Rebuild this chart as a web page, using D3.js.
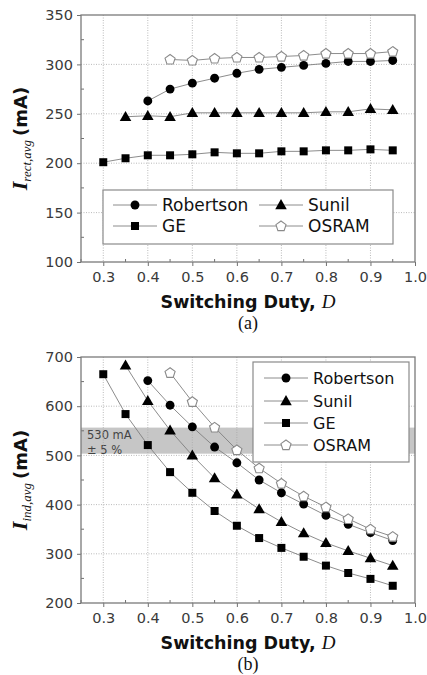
<!DOCTYPE html>
<html>
<head>
<meta charset="utf-8">
<script src="https://cdn.jsdelivr.net/npm/d3@7"></script>
<style>
  body { margin: 0; background: #fff; }
</style>
</head>
<body>
<div id="chart"></div>
<script>
// switching duty values (x)
const duty = [0.3, 0.35, 0.4, 0.45, 0.5, 0.55, 0.6, 0.65, 0.7, 0.75, 0.8, 0.85, 0.9, 0.95];
const xTicks = [0.3, 0.4, 0.5, 0.6, 0.7, 0.8, 0.9, 1.0];
const xMinor = [0.25, 0.35, 0.45, 0.55, 0.65, 0.75, 0.85, 0.95];

// (a) rectifier average current, mA
const rectRobertson = [null, null, 263, 275, 281, 286, 291, 295, 297, 299, 301, 303, 303, 304];
const rectSunil     = [null, 247, 248, 247, 251, 251, 251, 251, 251, 251, 252, 252, 255, 254];
const rectGE        = [201, 205, 208, 208, 209, 211, 210, 210, 212, 212, 213, 213, 214, 213];
const rectOsram     = [null, null, null, 305, 304, 306, 307, 307, 308, 309, 311, 311, 311, 313];
const rectTicks = [100, 150, 200, 250, 300, 350];
const rectMinor = [125, 175, 225, 275, 325];

// (b) inductor average current, mA
const indRobertson = [null, null, 652, 602, 558, 517, 485, 450, 424, 401, 378, 360, 343, 327];
const indSunil     = [null, 683, 611, 551, 500, 454, 421, 391, 365, 342, 322, 306, 291, 276];
const indGE        = [665, 584, 521, 466, 424, 387, 357, 332, 312, 294, 276, 261, 249, 235];
const indOsram     = [null, null, null, 668, 609, 557, 511, 474, 443, 417, 395, 371, 350, 335];
const indTicks = [200, 300, 400, 500, 600, 700];
const indMinor = [250, 350, 450, 550, 650];
const band = [503.5, 556.5]; // 530 mA +- 5 %

const seriesNames = ["Robertson", "Sunil", "GE", "OSRAM"];

var svg = d3.select("#chart").append("svg")
    .attr("width", 427)
    .attr("height", 675)
    .attr("font-family", "DejaVu Sans");

// marker shapes
function pentagon(r) {
    var pts = d3.range(5).map(function(i) {
        var a = -Math.PI / 2 + i * 2 * Math.PI / 5;
        return [r * Math.cos(a), r * Math.sin(a)];
    });
    return "M" + pts.join("L") + "Z";
}
function marker(g, name, x, y) {
    if (name == "Robertson") {
        g.append("path").attr("d", d3.symbol(d3.symbolCircle, 62)())
            .attr("transform", "translate(" + x + "," + y + ")").attr("fill", "#000");
    } else if (name == "Sunil") {
        g.append("path").attr("d", d3.symbol(d3.symbolTriangle, 58)())
            .attr("transform", "translate(" + x + "," + (y + 0.8) + ")").attr("fill", "#000");
    } else if (name == "GE") {
        g.append("path").attr("d", d3.symbol(d3.symbolSquare, 64)())
            .attr("transform", "translate(" + x + "," + y + ")").attr("fill", "#000");
    } else {
        g.append("path").attr("d", pentagon(5.3))
            .attr("transform", "translate(" + x + "," + (y + 0.3) + ")")
            .attr("fill", "#fff").attr("stroke", "#8a8a8a").attr("stroke-width", 1.1);
    }
}

function drawPanel(cfg) {
    var x = d3.scaleLinear().domain([0.25, 1.0]).range([81, 415]);
    var y = d3.scaleLinear().domain(cfg.domain).range([cfg.bottom, cfg.top]);
    var g = svg.append("g");

    // shaded tolerance band
    if (cfg.band) {
        g.append("rect")
            .attr("x", x(0.25)).attr("width", x(1.0) - x(0.25))
            .attr("y", y(cfg.band[1])).attr("height", y(cfg.band[0]) - y(cfg.band[1]))
            .attr("fill", "#c6c6c6");
        g.append("text").attr("x", 87).attr("y", y(cfg.band[1]) + 11)
            .attr("font-size", "11.5px").attr("fill", "#444").text("530 mA");
        g.append("text").attr("x", 87).attr("y", y(cfg.band[1]) + 26)
            .attr("font-size", "11.5px").attr("fill", "#444").text("± 5 %");
    }

    // dotted grid
    g.selectAll(".vgrid").data(xTicks.slice(0, -1)).enter().append("line")
        .attr("x1", d => x(d)).attr("x2", d => x(d))
        .attr("y1", cfg.top).attr("y2", cfg.bottom)
        .attr("stroke", "#a8a8a8").attr("stroke-width", 0.8).attr("stroke-dasharray", "1,1.5");
    g.selectAll(".hgrid").data(cfg.ticks.slice(1, -1)).enter().append("line")
        .attr("y1", d => y(d)).attr("y2", d => y(d))
        .attr("x1", x(0.25)).attr("x2", x(1.0))
        .attr("stroke", "#a8a8a8").attr("stroke-width", 0.8).attr("stroke-dasharray", "1,1.5");

    // axes
    var xAxis = d3.axisBottom(x).tickValues(xTicks).tickFormat(d3.format(".1f")).tickSize(4).tickPadding(6);
    var gx = g.append("g").attr("transform", "translate(0," + cfg.bottom + ")").call(xAxis);
    var yAxis = d3.axisLeft(y).tickValues(cfg.ticks).tickFormat(d3.format("d")).tickSize(4).tickPadding(4);
    var gy = g.append("g").attr("transform", "translate(81,0)").call(yAxis);
    [gx, gy].forEach(function(a) {
        a.select(".domain").remove();
        a.selectAll(".tick line").attr("stroke", "#707070");
        a.selectAll(".tick text").attr("font-size", "14.5px").attr("fill", "#3a3a3a");
    });
    gx.attr("font-family", "DejaVu Sans");
    gy.attr("font-family", "DejaVu Sans");
    // minor ticks inside
    g.selectAll(".xminor").data(xMinor).enter().append("line")
        .attr("x1", d => x(d)).attr("x2", d => x(d))
        .attr("y1", cfg.bottom).attr("y2", cfg.bottom - 3).attr("stroke", "#707070");
    g.selectAll(".yminor").data(cfg.minor).enter().append("line")
        .attr("y1", d => y(d)).attr("y2", d => y(d))
        .attr("x1", 81).attr("x2", 84).attr("stroke", "#707070");

    // frame
    g.append("rect").attr("x", 81).attr("y", cfg.top)
        .attr("width", 415 - 81).attr("height", cfg.bottom - cfg.top)
        .attr("fill", "none").attr("stroke", "#7a7a7a").attr("stroke-width", 1.3);

    // series
    var line = d3.line().defined(d => d[1] != null).x(d => x(d[0])).y(d => y(d[1]));
    cfg.series.forEach(function(vals, i) {
        var pts = duty.map((d, j) => [d, vals[j]]);
        g.append("path").datum(pts).attr("d", line)
            .attr("fill", "none").attr("stroke", "#7f7f7f").attr("stroke-width", 0.9);
    });
    cfg.series.forEach(function(vals, i) {
        duty.forEach(function(d, j) {
            if (vals[j] != null) marker(g, seriesNames[i], x(d), y(vals[j]));
        });
    });

    // legend
    var lg = g.append("g");
    lg.append("rect").attr("x", cfg.legend.x).attr("y", cfg.legend.y)
        .attr("width", cfg.legend.w).attr("height", cfg.legend.h)
        .attr("fill", "#fff").attr("stroke", "#8a8a8a").attr("stroke-width", 1.2);
    cfg.legend.items.forEach(function(it) {
        lg.append("line").attr("x1", it.x - 22).attr("x2", it.x + 22)
            .attr("y1", it.y).attr("y2", it.y).attr("stroke", "#7f7f7f").attr("stroke-width", 0.9);
        marker(lg, it.name, it.x, it.y);
        lg.append("text").attr("x", it.x + 27).attr("y", it.y + cfg.legend.fs * 0.36)
            .attr("font-size", cfg.legend.fs + "px").attr("fill", "#111").text(it.name);
    });

    // axis titles
    g.append("text").attr("x", 248).attr("y", cfg.bottom + 46)
        .attr("text-anchor", "middle").attr("font-weight", "bold").attr("font-size", "17.5px")
        .attr("fill", "#111")
        .call(t => {
            t.append("tspan").text("Switching Duty, ");
            t.append("tspan").attr("font-family", "Liberation Serif").attr("font-style", "italic")
                .attr("font-weight", "normal").attr("font-size", "19px").text("D");
        });
    var cy = (cfg.top + cfg.bottom) / 2;
    g.append("text").attr("transform", "translate(27," + cy + ") rotate(-90)")
        .attr("text-anchor", "middle").attr("fill", "#111")
        .call(t => {
            t.append("tspan").attr("font-family", "Liberation Serif").attr("font-style", "italic")
                .attr("font-weight", "bold").attr("font-size", "22px").text("I");
            t.append("tspan").attr("font-family", "Liberation Serif").attr("font-style", "italic")
                .attr("font-size", "13px").attr("dy", 4).text(cfg.sub);
            t.append("tspan").attr("font-weight", "bold").attr("font-size", "18px")
                .attr("dy", -4).attr("dx", 4).text("(mA)");
        });
    g.append("text").attr("x", 248).attr("y", cfg.bottom + 67)
        .attr("text-anchor", "middle").attr("font-family", "Liberation Serif")
        .attr("font-size", "18px").attr("fill", "#111").text(cfg.caption);
}

drawPanel({
    top: 15, bottom: 262, domain: [100, 350], ticks: rectTicks, minor: rectMinor,
    series: [rectRobertson, rectSunil, rectGE, rectOsram], sub: "rect,avg", caption: "(a)",
    legend: { x: 103, y: 190, w: 290, h: 54, fs: 17, items: [
        { name: "Robertson", x: 135, y: 205 }, { name: "Sunil", x: 281, y: 205 },
        { name: "GE", x: 135, y: 226 }, { name: "OSRAM", x: 281, y: 226 }] }
});

drawPanel({
    top: 357, bottom: 603, domain: [200, 700], ticks: indTicks, minor: indMinor, band: band,
    series: [indRobertson, indSunil, indGE, indOsram], sub: "ind,avg", caption: "(b)",
    legend: { x: 253, y: 362, w: 156, h: 100, fs: 16, items: [
        { name: "Robertson", x: 286, y: 378 }, { name: "Sunil", x: 286, y: 401 },
        { name: "GE", x: 286, y: 423 }, { name: "OSRAM", x: 286, y: 445 }] }
});
</script>
</body>
</html>
